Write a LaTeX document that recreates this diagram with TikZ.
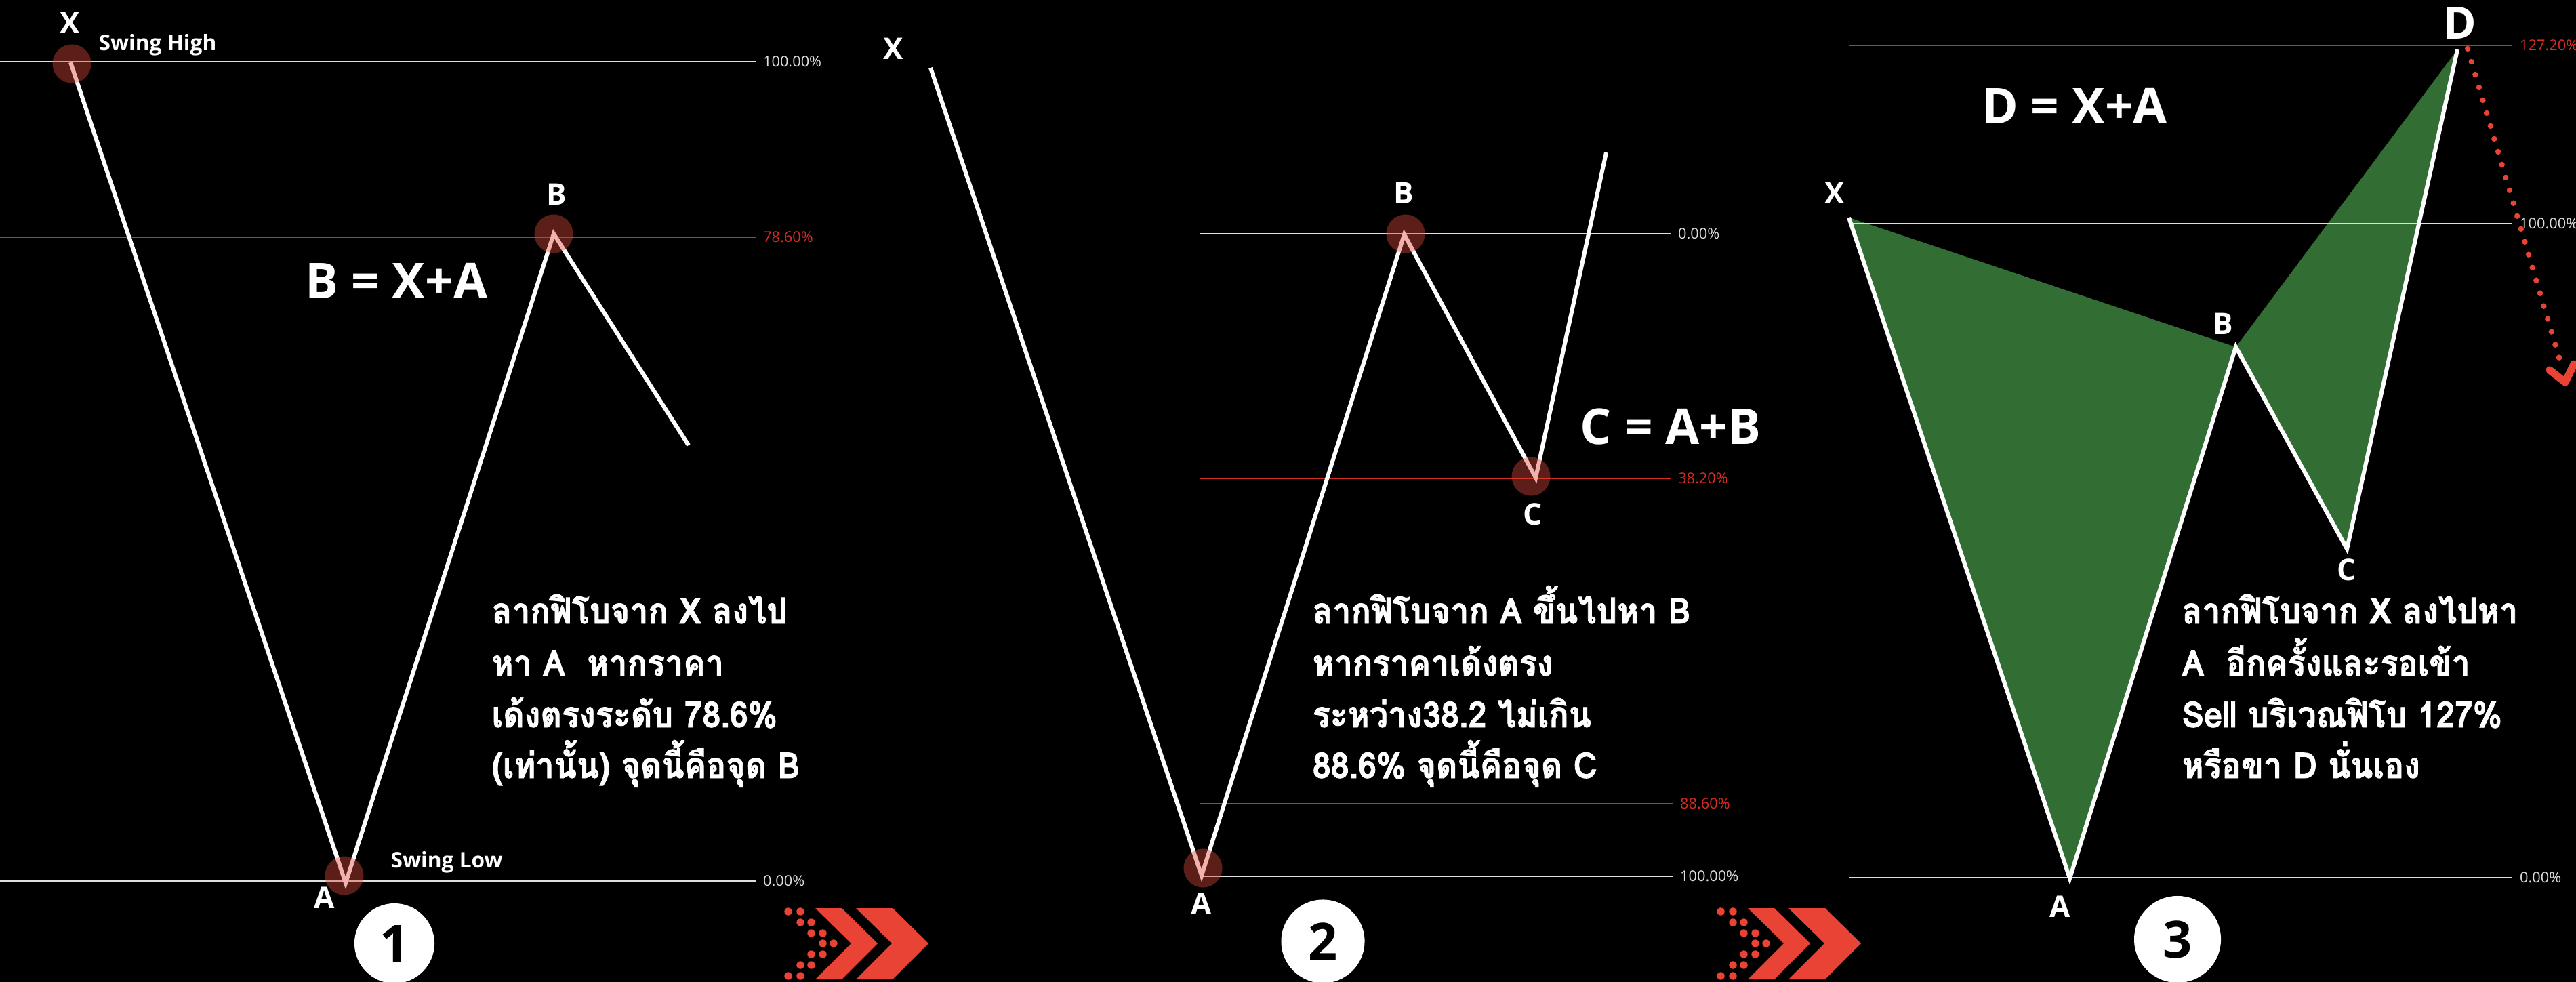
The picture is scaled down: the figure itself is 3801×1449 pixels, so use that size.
\documentclass[tikz,border=0pt]{standalone}
\usepackage{fontspec}
\setmainfont{Open Sans}
\newfontfamily\thaifont[Script=Thai,FakeStretch=0.92,FakeBold=1.6]{Loma}
\usetikzlibrary{calc}
\definecolor{lvlred}{RGB}{214,44,34}
\definecolor{lvlwhite}{RGB}{222,222,222}
\definecolor{hlred}{RGB}{220,73,61}
\definecolor{chevred}{RGB}{233,67,53}
\definecolor{patgreen}{RGB}{50,110,51}
\tikzset{
 leg/.style={draw=white, line width=1.71pt, line join=miter},
 lvlw/.style={draw=lvlwhite, line width=0.6pt},
 lvlr/.style={draw=lvlred, line width=0.6pt},
 pctw/.style={text=lvlwhite, font=\fontsize{6.2}{7}\selectfont, anchor=west, inner sep=0pt, xshift=0.1cm},
 pctr/.style={pctw, text=lvlred},
 ptlbl/.style={text=white, font=\bfseries\fontsize{12.5}{14}\selectfont, inner sep=0pt},
 bigptlbl/.style={text=white, font=\bfseries\fontsize{18.7}{20}\selectfont, inner sep=0pt},
 swing/.style={text=white, font=\bfseries\fontsize{9}{10}\selectfont, inner sep=0pt, anchor=base west},
 eqn/.style={text=white, font=\bfseries\fontsize{20.7}{24}\selectfont, inner sep=0pt},
 hl/.style={fill=hlred, fill opacity=0.42},
 numc/.style={circle, fill=white, inner sep=0pt, text=black, font=\bfseries\fontsize{21.5}{24}\selectfont},
 thai/.style={text=white, font=\thaifont\bfseries\fontsize{15}{17}\selectfont, inner sep=0pt, anchor=base west},
 chev/.style={fill=chevred},
 reddots/.style={draw=chevred, line width=2.4pt, line cap=round, dash pattern=on 0pt off 5.63pt},
 greenfill/.style={fill=patgreen},
}
\begin{document}
\begin{tikzpicture}[x=0.01cm,y=-0.01cm]
\fill[black] (0,0) rectangle (3801,1449);
\useasboundingbox (0,0) rectangle (3801,1449);

% ---------------- Panel 1 ----------------
\coordinate (p1X) at (104,92);
\coordinate (p1A) at (510,1303);
\coordinate (p1B) at (817,345);
\coordinate (p1E) at (1016,657);
\coordinate (l1a) at (0,91);    \coordinate (l1b) at (1115,91);
\coordinate (l2a) at (0,350);   \coordinate (l2b) at (1115,350);
\coordinate (l3a) at (0,1300);  \coordinate (l3b) at (1115,1300);
\draw[lvlw] (l1a) -- (l1b) node[pctw] (t11) {100.00\%};
\draw[lvlr] (l2a) -- (l2b) node[pctr] (t12) {78.60\%};
\draw[lvlw] (l3a) -- (l3b) node[pctw] (t13) {0.00\%};
\draw[leg] (p1X) -- (p1A) -- (p1B) -- (p1E);
\fill[hl] (106,94) circle[radius=0.285cm];
\fill[hl] (817,345) circle[radius=0.285cm];
\fill[hl] (508,1292) circle[radius=0.285cm];
\node[ptlbl] (n1X) at (103,34) {X};
\node[ptlbl] (n1B) at (821,287) {B};
\node[ptlbl] (n1A) at (479,1325) {A};
\node[swing] (n1sh) at (145,75) {Swing High};
\node[swing] (n1sl) at (576,1280) {Swing Low};
\node[eqn] (n1eq) at (585,414) {B = X+A};
\node[thai] (n1t1) at (725,920) {ลากฟิโบจาก X ลงไป};
\node[thai] (n1t2) at (725,997) {หา A \ หากราคา};
\node[thai] (n1t3) at (725,1073) {เด้งตรงระดับ 78.6\%};
\node[thai] (n1t4) at (725,1148) {(เท่านั้น) จุดนี้คือจุด B};
\node[numc, minimum size=1.18cm] (c1) at (582,1392) {1};

% ---------------- Panel 2 ----------------
\coordinate (p2X) at (1373,100);
\coordinate (p2A) at (1773,1292);
\coordinate (p2B) at (2072,346);
\coordinate (p2C) at (2266,705);
\coordinate (p2E) at (2370,225);
\coordinate (m1a) at (1770,345);  \coordinate (m1b) at (2465,345);
\coordinate (m2a) at (1770,706);  \coordinate (m2b) at (2465,706);
\coordinate (m3a) at (1770,1186); \coordinate (m3b) at (2468,1186);
\coordinate (m4a) at (1773,1293); \coordinate (m4b) at (2468,1293);
\draw[lvlw] (m1a) -- (m1b) node[pctw] (t21) {0.00\%};
\draw[lvlr] (m2a) -- (m2b) node[pctr] (t22) {38.20\%};
\draw[lvlr] (m3a) -- (m3b) node[pctr] (t23) {88.60\%};
\draw[lvlw] (m4a) -- (m4b) node[pctw] (t24) {100.00\%};
\draw[leg] (p2X) -- (p2A) -- (p2B) -- (p2C) -- (p2E);
\fill[hl] (2074,345) circle[radius=0.285cm];
\fill[hl] (2259,703) circle[radius=0.285cm];
\fill[hl] (1775,1281) circle[radius=0.285cm];
\node[ptlbl] (n2X) at (1318,72) {X};
\node[ptlbl] (n2B) at (2071,285) {B};
\node[ptlbl] (n2C) at (2261,759) {C};
\node[ptlbl] (n2A) at (1773,1334) {A};
\node[eqn] (n2eq) at (2465,629) {C = A+B};
\node[thai] (n2t1) at (1936,920) {ลากฟิโบจาก A ขึ้นไปหา B};
\node[thai] (n2t2) at (1936,997) {หากราคาเด้งตรง};
\node[thai] (n2t3) at (1936,1073) {ระหว่าง38.2 ไม่เกิน};
\node[thai] (n2t4) at (1936,1148) {88.6\% จุดนี้คือจุด C};
\node[numc, minimum size=1.23cm] (c2) at (1952,1389) {2};

% ---------------- Panel 3 ----------------
\coordinate (p3X) at (2728,321);
\coordinate (p3A) at (3054,1296);
\coordinate (p3B) at (3299,512);
\coordinate (p3C) at (3463,810);
\coordinate (p3D) at (3626,73);
\fill[greenfill] (p3X) -- (p3A) -- (p3B) -- cycle;
\fill[greenfill] (p3B) -- (p3D) -- (p3C) -- cycle;
\coordinate (k1a) at (2728,67);   \coordinate (k1b) at (3707,67);
\coordinate (k2a) at (2728,330);  \coordinate (k2b) at (3707,330);
\coordinate (k3a) at (2728,1295); \coordinate (k3b) at (3707,1295);
\draw[lvlr] (k1a) -- (k1b) node[pctr] (t31) {127.20\%};
\draw[lvlw] (k2a) -- (k2b) node[pctw] (t32) {100.00\%};
\draw[lvlw] (k3a) -- (k3b) node[pctw] (t33) {0.00\%};
\draw[leg] (p3X) -- (p3A) -- (p3B) -- (p3C) -- (p3D);
\node[ptlbl] (n3X) at (2707,285) {X};
\node[ptlbl] (n3B) at (3280,478) {B};
\node[ptlbl] (n3C) at (3462,841) {C};
\node[ptlbl] (n3A) at (3040,1338) {A};
\node[bigptlbl] (n3D) at (3630,34) {D};
\node[eqn] (n3eq) at (3061,156) {D = X+A};
\node[thai] (n3t1) at (3219,920) {ลากฟิโบจาก X ลงไปหา};
\node[thai] (n3t2) at (3219,997) {A \ อีกครั้งและรอเข้า};
\node[thai] (n3t3) at (3219,1073) {Sell บริเวณฟิโบ 127\%};
\node[thai] (n3t4) at (3219,1148) {หรือขา D นั่นเอง};
\node[numc, minimum size=1.28cm] (c3) at (3213,1386) {3};
% red dotted arrow
\coordinate (dS) at (3641,72);
\coordinate (dE) at (3777,531);
\coordinate (aL) at (3762,546);
\coordinate (aT) at (3785,564);
\coordinate (aR) at (3798,537);
\draw[reddots] (dS) -- (dE);
\draw[draw=chevred, line width=3.2pt, line cap=round, line join=round] (aL) -- (aT) -- (aR);

% ---------------- chevrons ----------------
\foreach \dx in {0,1376} {
 \begin{scope}[xshift=\dx*0.01cm]
  \fill[chev] (1203,1340) -- (1242,1340) -- (1295,1392) -- (1242,1445) -- (1203,1445) -- (1256,1392) -- cycle;
  \fill[chev] (1263,1340) -- (1317,1340) -- (1370,1392) -- (1317,1445) -- (1263,1445) -- (1316,1392) -- cycle;
  \foreach \px/\py in {1163/1345,1181/1345,1181/1361,1197/1361,1197/1377,1214/1377,1214/1392,1230/1392,1197/1408,1214/1408,1181/1424,1197/1424,1163/1440,1181/1440}
   \fill[chevred] (\px,\py) circle[radius=0.057cm];
 \end{scope}
}
\end{tikzpicture}
\end{document}
